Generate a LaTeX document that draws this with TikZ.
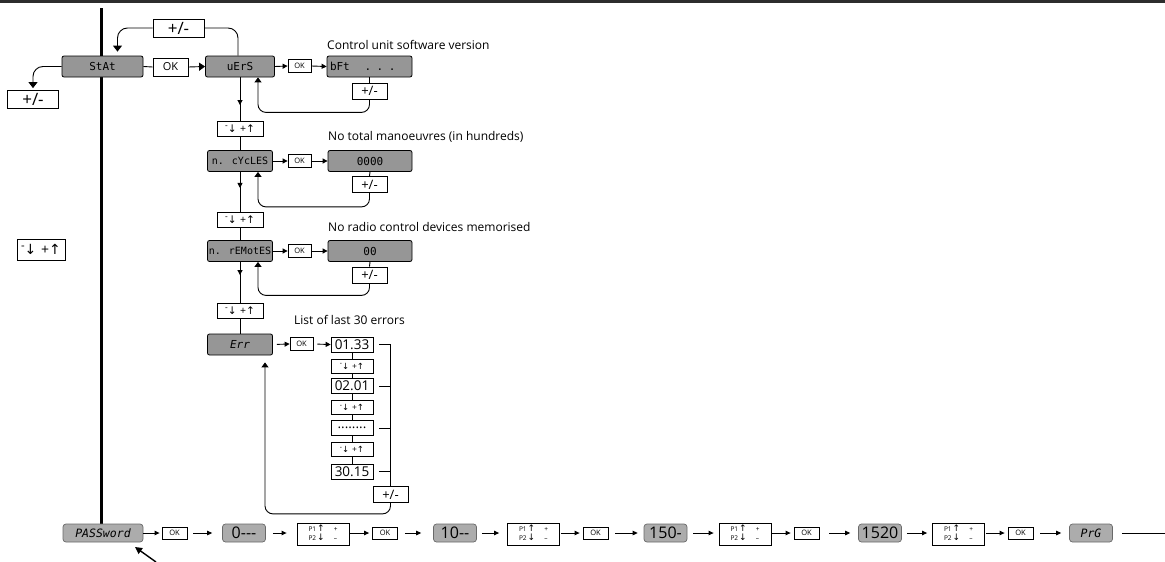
\documentclass[tikz,border=0pt]{standalone}
\usepackage{fontspec}
\setmainfont{Open Sans}
\newfontfamily\arr{DejaVu Sans}
\newfontfamily\seg{DejaVu Sans Mono}
\usetikzlibrary{arrows.meta,decorations.markings}
\definecolor{dispgray}{RGB}{150,150,150}
\definecolor{bgray}{RGB}{172,172,172}
\definecolor{bborder}{RGB}{105,105,105}
\definecolor{topline}{RGB}{45,45,45}
\tikzset{
  disp/.style={draw=black, line width=0.8pt, fill=dispgray, rounded corners=2pt,
    minimum height=21pt, minimum width=65pt, inner sep=0pt, font=\seg\fontsize{11}{11}\selectfont},
  longdisp/.style={disp, font=\seg\fontsize{10}{10}\selectfont},
  key/.style={draw=black, line width=0.8pt, fill=white, inner sep=0pt},
  bigkey/.style={key, minimum width=51pt, minimum height=18pt, font=\fontsize{17}{17}\selectfont},
  pmkey/.style={key, minimum width=35pt, minimum height=16pt, font=\fontsize{13}{13}\selectfont},
  okkey/.style={key, minimum width=23pt, minimum height=13pt, font=\fontsize{7.5}{7.5}\selectfont},
  udkey/.style={key, minimum width=46pt, minimum height=15pt, font=\fontsize{10.5}{10.5}\selectfont},
  errkey/.style={key, minimum width=42pt, minimum height=15pt, font=\fontsize{13.5}{13.5}\selectfont},
  errud/.style={key, minimum width=42pt, minimum height=14pt, font=\fontsize{8.5}{8.5}\selectfont},
  bdisp/.style={draw=bborder, line width=0.7pt, fill=bgray, rounded corners=3pt,
    minimum width=43pt, minimum height=18pt, inner sep=0pt, font=\fontsize{16}{16}\selectfont},
  ppkey/.style={key, minimum width=52pt, minimum height=22pt},
  note/.style={anchor=west, inner sep=0pt, font=\fontsize{12}{12}\selectfont},
  conn/.style={line width=0.9pt},
  arw/.style={conn, -{Triangle[length=5pt,width=5pt]}},
  bigarw/.style={conn, -{Triangle[length=6pt,width=8pt]}},
  barw/.style={line width=1pt, -{Triangle[length=5pt,width=4.5pt]}},
  midarrow/.style={postaction={decorate}, decoration={markings,
    mark=at position #1 with {\arrow{Triangle[length=5pt,width=5pt]}}}},
  midarrow/.default=0.5
}
\newcommand{\udtxt}{\raisebox{0.4em}{\scalebox{0.8}{-}}{\arr ↓}\,\,+{\arr ↑}}
\newcommand{\pptxt}{\fontsize{6.5}{8}\selectfont\renewcommand{\arraystretch}{0.85}%
  \begin{tabular}{@{}l@{\,}l@{\hspace{9pt}}l@{}}P1&{\arr\fontsize{9}{8}\selectfont ↑}&+\\P2&{\arr\fontsize{9}{8}\selectfont ↓}&–\end{tabular}}
\begin{document}
\begin{tikzpicture}[x=1pt,y=-1pt]
\useasboundingbox (0,0) rectangle (1165,562);
% top rule
\coordinate (tl) at (0,1.5);
\coordinate (tr) at (1165,1.5);
\draw[topline, line width=2.5pt] (tl) -- (tr);
% main vertical
\coordinate (vtop) at (101,8);
\coordinate (vbot) at (101,524);
\draw[line width=3pt] (vtop) -- (vbot);

% upper level
\node[disp, minimum width=81pt] (stat) at (102.5,66.5) {StAt};
\node[key, minimum width=35pt, minimum height=18pt, font=\fontsize{11}{11}\selectfont] (okbig) at (170.5,67) {OK};
\node[disp, minimum width=69pt] (vers) at (240,66.5) {uErS};
\node[okkey] (ok1) at (299.5,66) {OK};
\node[disp, minimum width=85pt, text width=79pt, align=left] (bft) at (369.5,66.5) {bFt\ \ \ \ . . .};
\node[pmkey] (pm1) at (369.5,91) {+/-};
\node[bigkey] (pmtop) at (178.5,28) {+/-};
\node[bigkey] (pmleft) at (33,99.5) {+/-};
\node[note] (t1) at (327,45) {Control unit software version};

\node[udkey] (ud1) at (240,128.5) {\udtxt};
\node[note] (t2) at (328,137) {No total manoeuvres (in hundreds)};
\node[longdisp] (ncyc) at (240,161) {n. cYcLES};
\node[okkey] (ok2) at (299.5,161) {OK};
\node[disp, minimum width=84pt] (c0000) at (370,161) {0000};
\node[pmkey] (pm2) at (369.5,184.5) {+/-};

\node[udkey] (ud2) at (240,220) {\udtxt};
\node[note] (t3) at (328,227) {No radio control devices memorised};
\node[longdisp] (nrem) at (240,251) {n. rEMotES};
\node[okkey] (ok3) at (299.5,251) {OK};
\node[disp, minimum width=84pt] (c00) at (370,251) {00};
\node[pmkey] (pm3) at (369.5,275) {+/-};

\node[udkey] (ud3) at (240,311) {\udtxt};
\node[note] (t4) at (294,320) {List of last 30 errors};
\node[disp, font=\seg\itshape\fontsize{11}{11}\selectfont] (err) at (240,344.5) {Err};
\node[okkey] (ok4) at (301.5,344) {OK};
\node[errkey] (e1) at (352,344.5) {01.33};
\node[errud] (eu1) at (352,366) {\udtxt};
\node[errkey] (e2) at (352,386) {02.01};
\node[errud] (eu2) at (352,407.5) {\udtxt};
\node[errkey] (e3) at (352,428) {........};
\node[errud] (eu3) at (352,449.5) {\udtxt};
\node[errkey] (e4) at (352,471.5) {30.15};
\node[pmkey] (pm4) at (390.5,494.5) {+/-};

% left ud key
\node[key, minimum width=48pt, minimum height=21pt, font=\fontsize{14}{14}\selectfont] (udleft) at (41,249.5) {\udtxt};

% connectors upper
\draw[conn] (stat.east) -- (okbig.west);
\draw[bigarw] (okbig.east) -- (vers.west);
\draw[conn, rounded corners=10pt, -{Triangle[length=6pt,width=9pt]}] (pmtop.west) -| ([xshift=15pt,yshift=4pt]stat.north);
\draw[conn, rounded corners=10pt] (pmtop.east) -| ([xshift=-2pt]vers.north);
\draw[conn, rounded corners=10pt, -{Triangle[length=6pt,width=9pt]}] (stat.west) -| ([yshift=2pt]pmleft.north);

\draw[arw] (vers.east) -- (ok1.west);
\draw[arw] (ok1.east) -- (bft.west);
\draw[conn] (bft.south) -- (pm1.north);
\draw[conn, rounded corners=8pt, -{Triangle[length=5pt,width=7pt]}] (pm1.south) -- ++(0,13) -| ([xshift=18pt]vers.south);
\draw[conn, midarrow=0.64] (vers.south) -- (ud1.north);
\draw[conn] (ud1.south) -- (ncyc.north);

\draw[arw] (ncyc.east) -- (ok2.west);
\draw[arw] (ok2.east) -- (c0000.west);
\draw[conn] (c0000.south) -- (pm2.north);
\draw[conn, rounded corners=8pt, -{Triangle[length=5pt,width=7pt]}] (pm2.south) -- ++(0,14) -| ([xshift=18pt]ncyc.south);
\draw[conn, midarrow=0.4] (ncyc.south) -- (ud2.north);
\draw[conn] (ud2.south) -- (nrem.north);

\draw[arw] (nrem.east) -- (ok3.west);
\draw[arw] (ok3.east) -- (c00.west);
\draw[conn] (c00.south) -- (pm3.north);
\draw[conn, rounded corners=8pt, -{Triangle[length=5pt,width=7pt]}] (pm3.south) -- ++(0,12) -| ([xshift=18pt]nrem.south);
\draw[conn, midarrow=0.32] (nrem.south) -- (ud3.north);
\draw[conn] (ud3.south) -- (err.north);

\draw[arw, shorten <=4pt] (err.east) -- (ok4.west);
\draw[arw, shorten <=4pt] (ok4.east) -- (e1.west);
\draw[conn] (e1.south) -- (eu1.north);
\draw[conn] (eu1.south) -- (e2.north);
\draw[conn] (e2.south) -- (eu2.north);
\draw[conn] (eu2.south) -- (e3.north);
\draw[conn] (e3.south) -- (eu3.north);
\draw[conn] (eu3.south) -- (e4.north);
\draw[conn] ([xshift=6pt]e1.east) -| (pm4.north);
\draw[conn] ([xshift=6pt]e2.east) -- (e2.east -| pm4.north);
\draw[conn] ([xshift=6pt]e3.east) -- (e3.east -| pm4.north);
\draw[conn] ([xshift=6pt]e4.east) -- (e4.east -| pm4.north);
\draw[conn, rounded corners=8pt, -{Triangle[length=5pt,width=7pt]}] (pm4.south) -- ++(0,11) -| ([xshift=25pt,yshift=-7pt]err.south);

% bottom row
\node[bdisp, minimum width=80pt, font=\seg\itshape\fontsize{11.5}{11.5}\selectfont] (pw) at (103,533) {PASSword};
\node[okkey, minimum width=25pt, minimum height=12pt] (bok1) at (174.5,533) {OK};
\node[bdisp] (b0) at (244,533) {0{-}{-}{-}};
\node[ppkey] (pp1) at (323,534) {\pptxt};
\node[okkey, minimum width=25pt, minimum height=12pt] (bok2) at (385,533) {OK};
\node[bdisp] (b10) at (455,533) {10{-}{-}};
\node[ppkey] (pp2) at (533.5,534) {\pptxt};
\node[okkey, minimum width=25pt, minimum height=12pt] (bok3) at (595.5,533) {OK};
\node[bdisp] (b150) at (665.5,533) {150{-}};
\node[ppkey] (pp3) at (745,534) {\pptxt};
\node[okkey, minimum width=25pt, minimum height=12pt] (bok4) at (806.5,533) {OK};
\node[bdisp] (b1520) at (880,533) {1520};
\node[ppkey] (pp4) at (958.5,534) {\pptxt};
\node[okkey, minimum width=25pt, minimum height=12pt] (bok5) at (1020.5,533) {OK};
\node[bdisp, font=\seg\itshape\fontsize{11.5}{11.5}\selectfont] (prg) at (1091,533) {PrG};
\coordinate (rowend) at (1165,533);

\draw[barw, shorten >=2pt] (pw.east) -- (bok1.west);
\draw[barw, shorten <=6pt, shorten >=10pt] (bok1.east) -- (b0.west);
\draw[barw, shorten <=7pt, shorten >=10pt] (b0.east) -- (pp1.west |- b0.east);
\draw[barw, shorten <=1pt, shorten >=3pt] (pp1.east |- bok2.west) -- (bok2.west);
\draw[barw, shorten <=7pt, shorten >=12pt] (bok2.east) -- (b10.west);
\draw[barw, shorten <=5pt, shorten >=8pt] (b10.east) -- (pp2.west |- b10.east);
\draw[barw, shorten <=1pt, shorten >=3pt] (pp2.east |- bok3.west) -- (bok3.west);
\draw[barw, shorten <=7pt, shorten >=6pt] (bok3.east) -- (b150.west);
\draw[barw, shorten <=6pt, shorten >=5pt] (b150.east) -- (pp3.west |- b150.east);
\draw[barw, shorten <=1pt, shorten >=3pt] (pp3.east |- bok4.west) -- (bok4.west);
\draw[barw, shorten <=10pt, shorten >=8pt] (bok4.east) -- (b1520.west);
\draw[barw, shorten <=5pt, shorten >=5pt] (b1520.east) -- (pp4.west |- b1520.east);
\draw[barw, shorten <=1pt, shorten >=3pt] (pp4.east |- bok5.west) -- (bok5.west);
\draw[barw, shorten <=7pt, shorten >=8pt] (bok5.east) -- (prg.west);
\draw[line width=1pt, shorten <=9pt] (prg.east) -- (rowend);

% pointer
\coordinate (ptail) at (156,562);
\coordinate (phead) at (135,547);
\draw[line width=1.4pt, -{Triangle[length=7pt,width=7pt]}] (ptail) -- (phead);
\end{tikzpicture}
\end{document}
